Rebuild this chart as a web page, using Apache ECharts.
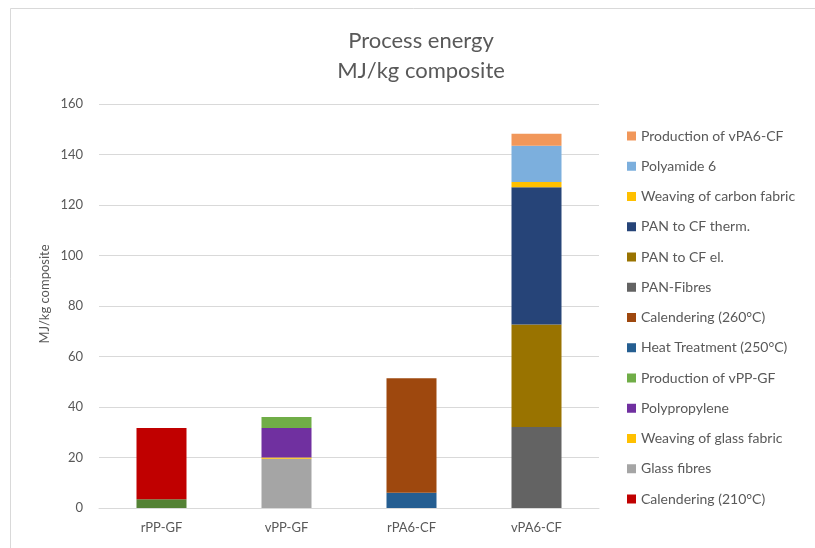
<!DOCTYPE html>
<html>
<head>
<meta charset="utf-8">
<script src="https://cdn.jsdelivr.net/npm/echarts@6/dist/echarts.min.js"></script>
<style>
  html, body { margin: 0; padding: 0; background: #ffffff; }
  #chart { width: 815px; height: 548px; }
</style>
</head>
<body>
<div id="chart"></div>
<script>
// Composite products on the x axis
const categories = ['rPP-GF', 'vPP-GF', 'rPA6-CF', 'vPA6-CF'];

// Process energy contributions, MJ/kg composite (one value per category)
const preheating          = [3.5, 0, 0, 0];
const calendering210      = [28.2, 0, 0, 0];
const glassFibres         = [0, 19.5, 0, 0];
const weavingGlass        = [0, 0.5, 0, 0];
const polypropylene       = [0, 11.7, 0, 0];
const productionVPPGF     = [0, 4.3, 0, 0];
const heatTreatment250    = [0, 0, 6.0, 0];
const calendering260      = [0, 0, 45.4, 0];
const panFibres           = [0, 0, 0, 32.1];
const panToCfEl           = [0, 0, 0, 40.6];
const panToCfTherm        = [0, 0, 0, 54.3];
const weavingCarbon       = [0, 0, 0, 2.1];
const polyamide6          = [0, 0, 0, 14.4];
const productionVPA6CF    = [0, 0, 0, 4.7];

// Y axis ticks
const yTicks = [0, 20, 40, 60, 80, 100, 120, 140, 160];

// Series in stacking order, bottom to top
const seriesDefs = [
  { name: 'Preheating',                 data: preheating,       color: '#548235', legend: false },
  { name: 'Calendering (210°C)',        data: calendering210,   color: '#C00000', legend: true },
  { name: 'Glass fibres',               data: glassFibres,      color: '#A5A5A5', legend: true },
  { name: 'Weaving of glass fabric',    data: weavingGlass,     color: '#FFC000', legend: true },
  { name: 'Polypropylene',              data: polypropylene,    color: '#7030A0', legend: true },
  { name: 'Production of vPP-GF',       data: productionVPPGF,  color: '#70AD47', legend: true },
  { name: 'Heat Treatment (250°C)',     data: heatTreatment250, color: '#255E91', legend: true },
  { name: 'Calendering (260°C)',        data: calendering260,   color: '#9E480E', legend: true },
  { name: 'PAN-Fibres',                 data: panFibres,        color: '#636363', legend: true },
  { name: 'PAN to CF el.',              data: panToCfEl,        color: '#997300', legend: true },
  { name: 'PAN to CF therm.',           data: panToCfTherm,     color: '#264478', legend: true },
  { name: 'Weaving of carbon fabric',   data: weavingCarbon,    color: '#FFC000', legend: true },
  { name: 'Polyamide 6',                data: polyamide6,       color: '#7CAFDD', legend: true },
  { name: 'Production of vPA6-CF',      data: productionVPA6CF, color: '#F1975A', legend: true }
];

const FONT = 'Lato, "Open Sans", sans-serif';
const TEXT = '#595959';
const GRID = '#D9D9D9';

const chart = echarts.init(document.getElementById('chart'), null, { renderer: 'canvas' });

const option = {
  backgroundColor: '#ffffff',
  animation: false,
  title: {
    text: 'Process energy\nMJ/kg composite',
    left: 416,
    top: 21,
    textAlign: 'center',
    textStyle: { fontFamily: FONT, fontSize: 22, fontWeight: 'normal', color: TEXT, lineHeight: 30 }
  },
  grid: { left: 99, right: 216, top: 104, bottom: 40, containLabel: false },
  legend: {
    orient: 'vertical',
    left: 622,
    top: 123,
    itemWidth: 9,
    itemHeight: 9,
    itemGap: 14.25,
    icon: 'rect',
    data: seriesDefs.filter(s => s.legend).map(s => s.name).reverse(),
    textStyle: { fontFamily: FONT, fontSize: 14, color: TEXT, lineHeight: 16 }
  },
  xAxis: {
    type: 'category',
    data: categories,
    axisLine: { show: true, lineStyle: { color: GRID, width: 1 } },
    axisTick: { show: false },
    axisLabel: { fontFamily: FONT, fontSize: 13, color: TEXT, margin: 13 }
  },
  yAxis: {
    type: 'value',
    min: yTicks[0],
    max: yTicks[yTicks.length - 1],
    interval: yTicks[1] - yTicks[0],
    axisLine: { show: false },
    axisTick: { show: false },
    splitLine: { lineStyle: { color: GRID, width: 1 } },
    axisLabel: { fontFamily: FONT, fontSize: 13, color: TEXT, margin: 16 }
  },
  graphic: [
    {
      type: 'rect',
      shape: { x: 10.5, y: 8.5, width: 900, height: 700 },
      style: { fill: 'none', stroke: GRID, lineWidth: 1 },
      silent: true
    },
    {
      type: 'text',
      x: 45,
      y: 294,
      rotation: Math.PI / 2,
      style: {
        text: 'MJ/kg composite',
        fontFamily: FONT, fontSize: 13, fill: TEXT,
        textAlign: 'center', textVerticalAlign: 'middle'
      }
    }
  ],
  series: seriesDefs.map(s => ({
    name: s.name,
    type: 'bar',
    stack: 'energy',
    barWidth: '40%',
    data: s.data.map(v => (v === 0 ? null : v)),
    itemStyle: { color: s.color },
    emphasis: { disabled: true }
  }))
};

chart.setOption(option);
</script>
</body>
</html>
